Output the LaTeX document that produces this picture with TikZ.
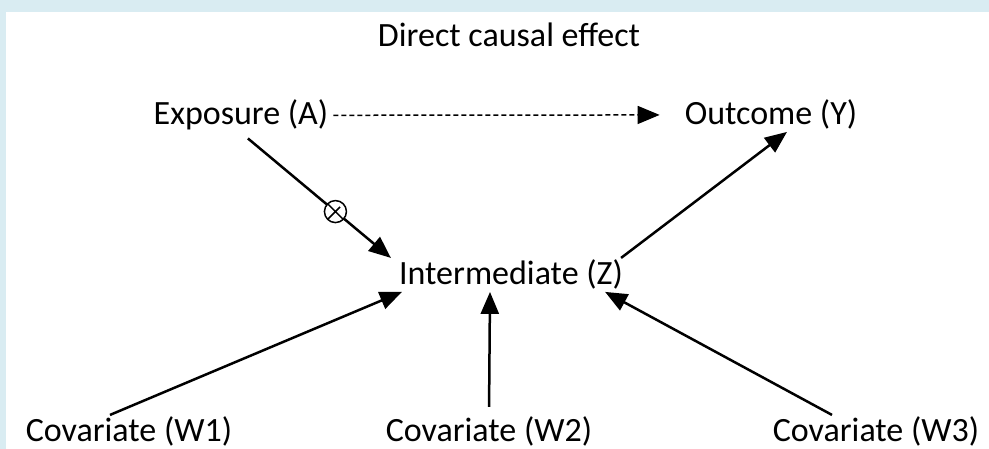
\documentclass[tikz,border=0pt]{standalone}
\usepackage{fontspec}
\setmainfont{Carlito}
\usetikzlibrary{arrows.meta}
\definecolor{frameblue}{RGB}{217,236,242}
\tikzset{
  lbl/.style={anchor=base,inner sep=2pt,font=\fontsize{34}{40}\selectfont},
  arr/.style={line width=2.5pt,-{Triangle[length=22pt,width=18pt]}},
  darr/.style={line width=1.5pt,dash pattern=on 5pt off 3pt,-{Triangle[length=22pt,width=18pt]}},
  otimes/.style={circle,draw,fill=white,line width=1.5pt,minimum size=22pt,inner sep=0pt,
    path picture={\draw[-,line width=1.5pt] (path picture bounding box.north west) -- (path picture bounding box.south east)
      (path picture bounding box.north east) -- (path picture bounding box.south west);}}
}

\begin{document}
\begin{tikzpicture}[x=1pt,y=1pt]
\useasboundingbox (0,0) rectangle (989,449);
\fill[frameblue] (0,437) rectangle (989,449);
\fill[frameblue] (0,0) rectangle (6,449);
\node[lbl] (title) at (509,402) {Direct causal effect};
\node[lbl] (expo) at (241,324) {Exposure (A)};
\node[lbl] (outc) at (771,324) {Outcome (Y)};
\node[lbl] (inter) at (511,164) {Intermediate (Z)};
\node[lbl] (w1) at (129,7) {Covariate (W1)};
\node[lbl] (w2) at (489,7) {Covariate (W2)};
\node[lbl] (w3) at (876,7) {Covariate (W3)};
\draw[darr,shorten <=3pt,shorten >=23pt] (expo.east) -- (outc.west);
\draw[arr,shorten <=9pt] (expo.south) -- ([xshift=-6pt]inter.north west)
  node[pos=0.63,otimes] (cross) {};
\draw[arr] ([xshift=-4pt]inter.north east) -- ([xshift=16pt]outc.south);
\draw[arr] ([xshift=-19pt]w1.north) -- ([xshift=5pt]inter.south west);
\draw[arr,shorten <=8pt] (w2.north) -- ([xshift=-21pt]inter.south);
\draw[arr] ([xshift=-44pt]w3.north) -- ([xshift=-20pt]inter.south east);
\end{tikzpicture}
\end{document}
